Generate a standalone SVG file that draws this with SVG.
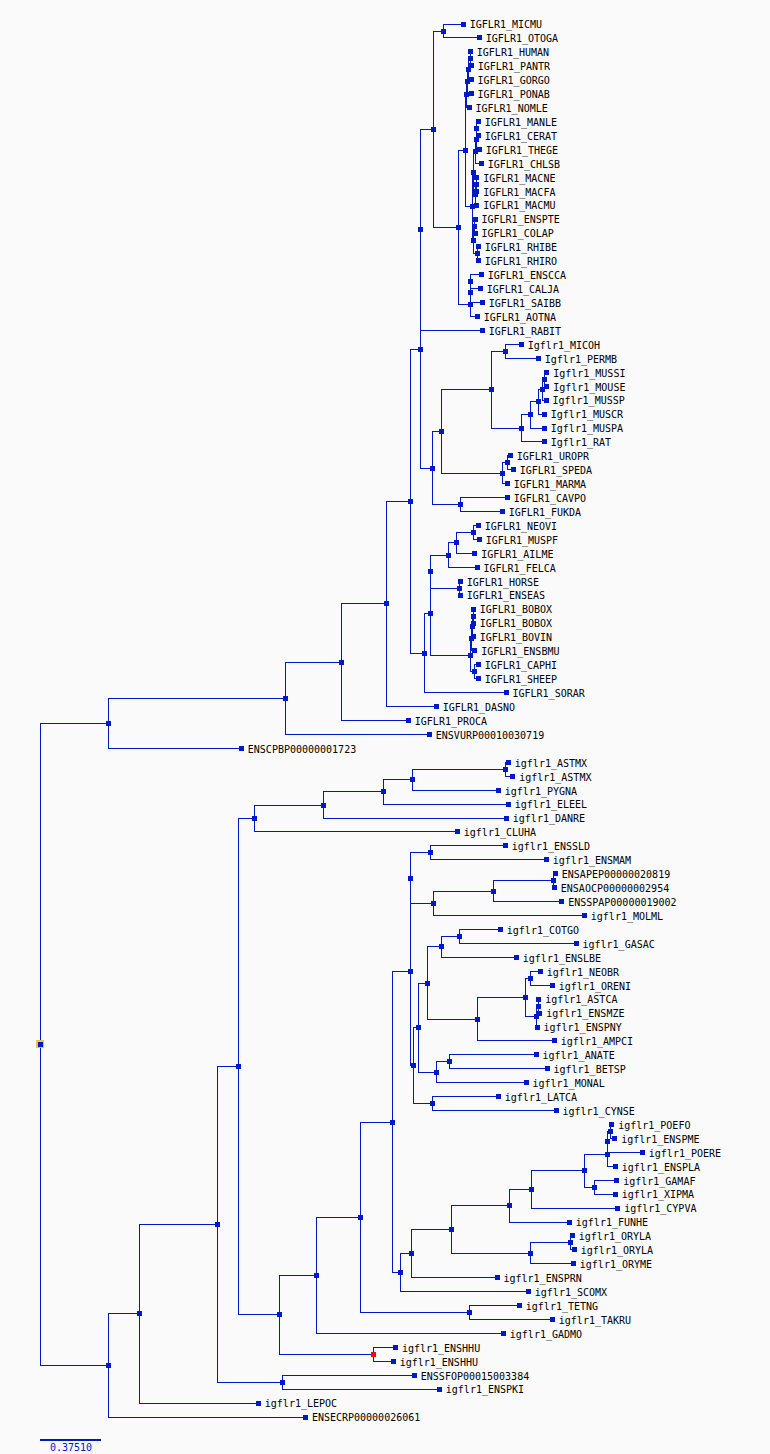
<svg xmlns="http://www.w3.org/2000/svg" xmlns:xlink="http://www.w3.org/1999/xlink" width="770" height="1454" viewBox="0 0 770 1454">
<style>
.c{fill:none;stroke:#0019c8;stroke-width:1;shape-rendering:crispEdges}
.n{fill:#0019c8;shape-rendering:crispEdges}
.t{font-family:"DejaVu Sans Mono","Liberation Mono",monospace;font-size:10px;fill:#000}
</style>
<defs><rect id="sq" x="-2.5" y="-2.5" width="5" height="5"/></defs>
<rect width="770" height="1454" fill="#fafafa"/>
<g id="connectors" class="c">
<path d="M463.3 24H443.3V37.9H479.3"/>
<path d="M470.3 51.9V65.8H471.3"/>
<path d="M470.3 58.9H468.7V79.7H471"/>
<path d="M468.7 69.3H467V93.7H471"/>
<path d="M467 81.5H466.3V107.6H469"/>
<path d="M478.3 121.5H476.7V135.4H478.3"/>
<path d="M476.7 128.5H476.3V149.4H479.3"/>
<path d="M476.3 139H475.5V163.3H481.3"/>
<path d="M476.7 177.2H476.3V191.2H476.7"/>
<path d="M476.3 184.2H475.5V205.1H476.7"/>
<path d="M475.5 151.1H473.5V194.7H475.5"/>
<path d="M475 219H474V233H475"/>
<path d="M478.3 246.9H477.5V260.8H478.3"/>
<path d="M474 226H473V253.9H477.5"/>
<path d="M473.5 172.9H472V240H473"/>
<path d="M466.3 94.6H465.3V206.4H472"/>
<path d="M481.3 274.7H470.5V288.7H480.3"/>
<path d="M470.5 281.7H470.3V302.6H482.3"/>
<path d="M470.3 292.2H470V316.5H477.3"/>
<path d="M465.3 150.5H458.3V304.3H470"/>
<path d="M443.3 31H433.3V227.4H458.3"/>
<path d="M433.3 129.2H420V330.5H482.3"/>
<path d="M521.3 344.4H505.3V358.3H538.3"/>
<path d="M546.7 372.3H544.3V386.2H546.7"/>
<path d="M544.3 379.2H542.7V400.1H546"/>
<path d="M542.7 389.7H538.3V414H544.3"/>
<path d="M538.3 401.9H530.3V428H544.3"/>
<path d="M530.3 414.9H521.3V441.9H544.3"/>
<path d="M505.3 351.4H491.3V428.4H521.3"/>
<path d="M510.3 455.8H507.3V469.8H513.3"/>
<path d="M507.3 462.8H502.3V483.7H507.3"/>
<path d="M491.3 389.9H441.3V473.3H502.3"/>
<path d="M507.3 497.6H460.3V511.6H502.3"/>
<path d="M441.3 431.6H432.3V504.6H460.3"/>
<path d="M420 229.8H420.3V468.1H432.3"/>
<path d="M478.3 525.5H473.3V539.4H479.3"/>
<path d="M473.3 532.5H456.3V553.3H474.7"/>
<path d="M456.3 542.9H448.3V567.3H477"/>
<path d="M460.3 581.2H459.3V595.1H460.3"/>
<path d="M448.3 555.1H430.7V588.2H459.3"/>
<path d="M473.3 609.1H473V623H473.3"/>
<path d="M473 616.1H472.5V636.9H473.3"/>
<path d="M472.5 626.5H471.5V650.9H474.7"/>
<path d="M478.3 664.8H474.7V678.7H478.3"/>
<path d="M471.5 638.7H470V671.8H474.7"/>
<path d="M430.7 571.6V655.2H470"/>
<path d="M430.7 613.4H424.3V692.6H506"/>
<path d="M420.3 349H410.5V653H424.3"/>
<path d="M410.5 501H386.3V706.6H436.3"/>
<path d="M386.3 603.8H341.7V720.5H408.3"/>
<path d="M341.7 662.2H285.3V734.4H429.3"/>
<path d="M285.3 698.3H108.3V748.4H241.3"/>
<path d="M108.3 723.3H40.3V1365.4H108.3"/>
<path d="M508.3 762.3H505.3V776.2H512.7"/>
<path d="M505.3 769.3H412.3V790.2H498.3"/>
<path d="M412.3 779.7H383.3V804.1H508.3"/>
<path d="M383.3 791.9H323.3V818H506.3"/>
<path d="M323.3 805H254.3V831.9H457.3"/>
<path d="M505.3 845.9H430.3V859.8H546.3"/>
<path d="M555.3 873.7H553.3V887.7H554.3"/>
<path d="M553.3 880.7H493.3V901.6H561.7"/>
<path d="M493.3 891.2H433.3V915.5H584.3"/>
<path d="M430.3 852.9H410V903.3H433.3"/>
<path d="M500.3 929.5H459.3V943.4H576"/>
<path d="M459.3 936.5H441.3V957.3H516.3"/>
<path d="M540.3 971.2H530.3V985.2H552.3"/>
<path d="M538.7 999.1V1013H539.7"/>
<path d="M538.7 1006.1H536.3V1027H537"/>
<path d="M530.3 978.2H525.3V1016.5H536.3"/>
<path d="M525.3 997.4H477.3V1040.9H554.3"/>
<path d="M441.3 946.9H427.3V1019.2H477.3"/>
<path d="M536 1054.8H449.3V1068.8H547"/>
<path d="M449.3 1061.8H436.7V1082.7H526"/>
<path d="M427.3 983H418.3V1072.3H436.7"/>
<path d="M498.3 1096.6H432.3V1110.5H556"/>
<path d="M418.3 1027.6H413.3V1103.6H432.3"/>
<path d="M410 878.1H410.3V1065.6H413.3"/>
<path d="M611.7 1124.5H610.5V1138.4H614.7"/>
<path d="M610.5 1131.5H607.5V1152.3H642.3"/>
<path d="M607.5 1141.9H607.3V1166.3H615.3"/>
<path d="M616.7 1180.2H594.3V1194.1H615.3"/>
<path d="M607.3 1154.1H584.3V1187.2H594.3"/>
<path d="M584.3 1170.6H531.3V1208.1H617.7"/>
<path d="M531.3 1189.4H509.3V1222H569.3"/>
<path d="M572.3 1235.9H570V1249.8H574.3"/>
<path d="M570 1242.9H530.3V1263.8H573.3"/>
<path d="M509.3 1205.7H451.3V1253.3H530.3"/>
<path d="M451.3 1229.5H411V1277.7H497"/>
<path d="M411 1253.6H400.3V1291.6H528.3"/>
<path d="M410.3 971.9H392.5V1272.6H400.3"/>
<path d="M519.3 1305.6H469.3V1319.5H552.3"/>
<path d="M392.5 1122.3H360V1312.5H469.3"/>
<path d="M360 1217.4H316.3V1333.4H503.3"/>
<path d="M395.4 1347.4H373.2V1361.3H393.2"/>
<path d="M316.3 1275.4H279.3V1354.3H373.2"/>
<path d="M254.3 818.4H238.3V1314.9H279.3"/>
<path d="M414.3 1375.2H282.2V1389.1H439.3"/>
<path d="M238.3 1066.7H217.3V1382.2H282.2"/>
<path d="M217.3 1224.5H139.3V1403.1H258.3"/>
<path d="M139.3 1313.8H108.3V1417H305.4"/>
</g>
<g id="internal-nodes" class="n">
<use xlink:href="#sq" x="443.3" y="31"/><use xlink:href="#sq" x="470.3" y="58.9"/><use xlink:href="#sq" x="468.7" y="69.3"/><use xlink:href="#sq" x="467" y="81.5"/><use xlink:href="#sq" x="466.3" y="94.6"/>
<use xlink:href="#sq" x="476.7" y="128.5"/><use xlink:href="#sq" x="476.3" y="139"/><use xlink:href="#sq" x="475.5" y="151.1"/><use xlink:href="#sq" x="476.3" y="184.2"/><use xlink:href="#sq" x="475.5" y="194.7"/><use xlink:href="#sq" x="473.5" y="172.9"/>
<use xlink:href="#sq" x="474" y="226"/><use xlink:href="#sq" x="477.5" y="253.9"/><use xlink:href="#sq" x="473" y="240"/><use xlink:href="#sq" x="472" y="206.4"/><use xlink:href="#sq" x="465.3" y="150.5"/>
<use xlink:href="#sq" x="470.5" y="281.7"/><use xlink:href="#sq" x="470.3" y="292.2"/><use xlink:href="#sq" x="470" y="304.3"/><use xlink:href="#sq" x="458.3" y="227.4"/><use xlink:href="#sq" x="433.3" y="129.2"/><use xlink:href="#sq" x="420" y="229.8"/>
<use xlink:href="#sq" x="505.3" y="351.4"/><use xlink:href="#sq" x="544.3" y="379.2"/><use xlink:href="#sq" x="542.7" y="389.7"/><use xlink:href="#sq" x="538.3" y="401.9"/><use xlink:href="#sq" x="530.3" y="414.9"/><use xlink:href="#sq" x="521.3" y="428.4"/><use xlink:href="#sq" x="491.3" y="389.9"/>
<use xlink:href="#sq" x="507.3" y="462.8"/><use xlink:href="#sq" x="502.3" y="473.3"/><use xlink:href="#sq" x="441.3" y="431.6"/><use xlink:href="#sq" x="460.3" y="504.6"/><use xlink:href="#sq" x="432.3" y="468.1"/><use xlink:href="#sq" x="420.3" y="349"/>
<use xlink:href="#sq" x="473.3" y="532.5"/><use xlink:href="#sq" x="456.3" y="542.9"/><use xlink:href="#sq" x="448.3" y="555.1"/><use xlink:href="#sq" x="459.3" y="588.2"/><use xlink:href="#sq" x="430.7" y="571.6"/>
<use xlink:href="#sq" x="473" y="616.1"/><use xlink:href="#sq" x="472.5" y="626.5"/><use xlink:href="#sq" x="471.5" y="638.7"/><use xlink:href="#sq" x="474.7" y="671.8"/><use xlink:href="#sq" x="470" y="655.2"/>
<use xlink:href="#sq" x="430.7" y="613.4"/><use xlink:href="#sq" x="424.3" y="653"/><use xlink:href="#sq" x="410.5" y="501"/><use xlink:href="#sq" x="386.3" y="603.8"/><use xlink:href="#sq" x="341.7" y="662.2"/><use xlink:href="#sq" x="285.3" y="698.3"/><use xlink:href="#sq" x="108.3" y="723.3"/>
<use xlink:href="#sq" x="505.3" y="769.3"/><use xlink:href="#sq" x="412.3" y="779.7"/><use xlink:href="#sq" x="383.3" y="791.9"/><use xlink:href="#sq" x="323.3" y="805"/><use xlink:href="#sq" x="254.3" y="818.4"/>
<use xlink:href="#sq" x="430.3" y="852.9"/><use xlink:href="#sq" x="553.3" y="880.7"/><use xlink:href="#sq" x="493.3" y="891.2"/><use xlink:href="#sq" x="433.3" y="903.3"/><use xlink:href="#sq" x="410" y="878.1"/>
<use xlink:href="#sq" x="459.3" y="936.5"/><use xlink:href="#sq" x="441.3" y="946.9"/><use xlink:href="#sq" x="530.3" y="978.2"/><use xlink:href="#sq" x="538.7" y="1006.1"/><use xlink:href="#sq" x="536.3" y="1016.5"/><use xlink:href="#sq" x="525.3" y="997.4"/><use xlink:href="#sq" x="477.3" y="1019.2"/><use xlink:href="#sq" x="427.3" y="983"/>
<use xlink:href="#sq" x="449.3" y="1061.8"/><use xlink:href="#sq" x="436.7" y="1072.3"/><use xlink:href="#sq" x="418.3" y="1027.6"/><use xlink:href="#sq" x="432.3" y="1103.6"/><use xlink:href="#sq" x="413.3" y="1065.6"/><use xlink:href="#sq" x="410.3" y="971.9"/>
<use xlink:href="#sq" x="610.5" y="1131.5"/><use xlink:href="#sq" x="607.5" y="1141.9"/><use xlink:href="#sq" x="607.3" y="1154.1"/><use xlink:href="#sq" x="594.3" y="1187.2"/><use xlink:href="#sq" x="584.3" y="1170.6"/><use xlink:href="#sq" x="531.3" y="1189.4"/><use xlink:href="#sq" x="509.3" y="1205.7"/>
<use xlink:href="#sq" x="570" y="1242.9"/><use xlink:href="#sq" x="530.3" y="1253.3"/><use xlink:href="#sq" x="451.3" y="1229.5"/><use xlink:href="#sq" x="411" y="1253.6"/><use xlink:href="#sq" x="400.3" y="1272.6"/><use xlink:href="#sq" x="392.5" y="1122.3"/>
<use xlink:href="#sq" x="469.3" y="1312.5"/><use xlink:href="#sq" x="360" y="1217.4"/><use xlink:href="#sq" x="316.3" y="1275.4"/><use xlink:href="#sq" x="279.3" y="1314.9"/><use xlink:href="#sq" x="238.3" y="1066.7"/><use xlink:href="#sq" x="282.2" y="1382.2"/><use xlink:href="#sq" x="217.3" y="1224.5"/><use xlink:href="#sq" x="139.3" y="1313.8"/><use xlink:href="#sq" x="108.3" y="1365.4"/>
<use xlink:href="#sq" x="373.2" y="1354.3" style="fill:#ff0000"/>
</g>
<g id="root">
<rect x="36.3" y="1040.4" width="8" height="8" fill="#e9c64a" shape-rendering="crispEdges"/>
<use xlink:href="#sq" x="40.3" y="1044.4" class="n"/>
</g>
<g id="leaves">
<g id="leaf-IGFLR1_MICMU"><use xlink:href="#sq" class="n" x="463.3" y="24"/><text class="t" x="469.8" y="28.3">IGFLR1_MICMU</text></g>
<g id="leaf-IGFLR1_OTOGA"><use xlink:href="#sq" class="n" x="479.3" y="37.9"/><text class="t" x="485.8" y="42.2">IGFLR1_OTOGA</text></g>
<g id="leaf-IGFLR1_HUMAN"><use xlink:href="#sq" class="n" x="470.3" y="51.9"/><text class="t" x="476.8" y="56.2">IGFLR1_HUMAN</text></g>
<g id="leaf-IGFLR1_PANTR"><use xlink:href="#sq" class="n" x="471.3" y="65.8"/><text class="t" x="477.8" y="70.1">IGFLR1_PANTR</text></g>
<g id="leaf-IGFLR1_GORGO"><use xlink:href="#sq" class="n" x="471" y="79.7"/><text class="t" x="477.5" y="84">IGFLR1_GORGO</text></g>
<g id="leaf-IGFLR1_PONAB"><use xlink:href="#sq" class="n" x="471" y="93.7"/><text class="t" x="477.5" y="98">IGFLR1_PONAB</text></g>
<g id="leaf-IGFLR1_NOMLE"><use xlink:href="#sq" class="n" x="469" y="107.6"/><text class="t" x="475.5" y="111.9">IGFLR1_NOMLE</text></g>
<g id="leaf-IGFLR1_MANLE"><use xlink:href="#sq" class="n" x="478.3" y="121.5"/><text class="t" x="484.8" y="125.8">IGFLR1_MANLE</text></g>
<g id="leaf-IGFLR1_CERAT"><use xlink:href="#sq" class="n" x="478.3" y="135.4"/><text class="t" x="484.8" y="139.7">IGFLR1_CERAT</text></g>
<g id="leaf-IGFLR1_THEGE"><use xlink:href="#sq" class="n" x="479.3" y="149.4"/><text class="t" x="485.8" y="153.7">IGFLR1_THEGE</text></g>
<g id="leaf-IGFLR1_CHLSB"><use xlink:href="#sq" class="n" x="481.3" y="163.3"/><text class="t" x="487.8" y="167.6">IGFLR1_CHLSB</text></g>
<g id="leaf-IGFLR1_MACNE"><use xlink:href="#sq" class="n" x="476.7" y="177.2"/><text class="t" x="483.2" y="181.5">IGFLR1_MACNE</text></g>
<g id="leaf-IGFLR1_MACFA"><use xlink:href="#sq" class="n" x="476.7" y="191.2"/><text class="t" x="483.2" y="195.5">IGFLR1_MACFA</text></g>
<g id="leaf-IGFLR1_MACMU"><use xlink:href="#sq" class="n" x="476.7" y="205.1"/><text class="t" x="483.2" y="209.4">IGFLR1_MACMU</text></g>
<g id="leaf-IGFLR1_ENSPTE"><use xlink:href="#sq" class="n" x="475" y="219"/><text class="t" x="481.5" y="223.3">IGFLR1_ENSPTE</text></g>
<g id="leaf-IGFLR1_COLAP"><use xlink:href="#sq" class="n" x="475" y="233"/><text class="t" x="481.5" y="237.3">IGFLR1_COLAP</text></g>
<g id="leaf-IGFLR1_RHIBE"><use xlink:href="#sq" class="n" x="478.3" y="246.9"/><text class="t" x="484.8" y="251.2">IGFLR1_RHIBE</text></g>
<g id="leaf-IGFLR1_RHIRO"><use xlink:href="#sq" class="n" x="478.3" y="260.8"/><text class="t" x="484.8" y="265.1">IGFLR1_RHIRO</text></g>
<g id="leaf-IGFLR1_ENSCCA"><use xlink:href="#sq" class="n" x="481.3" y="274.7"/><text class="t" x="487.8" y="279">IGFLR1_ENSCCA</text></g>
<g id="leaf-IGFLR1_CALJA"><use xlink:href="#sq" class="n" x="480.3" y="288.7"/><text class="t" x="486.8" y="293">IGFLR1_CALJA</text></g>
<g id="leaf-IGFLR1_SAIBB"><use xlink:href="#sq" class="n" x="482.3" y="302.6"/><text class="t" x="488.8" y="306.9">IGFLR1_SAIBB</text></g>
<g id="leaf-IGFLR1_AOTNA"><use xlink:href="#sq" class="n" x="477.3" y="316.5"/><text class="t" x="483.8" y="320.8">IGFLR1_AOTNA</text></g>
<g id="leaf-IGFLR1_RABIT"><use xlink:href="#sq" class="n" x="482.3" y="330.5"/><text class="t" x="488.8" y="334.8">IGFLR1_RABIT</text></g>
<g id="leaf-Igflr1_MICOH"><use xlink:href="#sq" class="n" x="521.3" y="344.4"/><text class="t" x="527.8" y="348.7">Igflr1_MICOH</text></g>
<g id="leaf-Igflr1_PERMB"><use xlink:href="#sq" class="n" x="538.3" y="358.3"/><text class="t" x="544.8" y="362.6">Igflr1_PERMB</text></g>
<g id="leaf-Igflr1_MUSSI"><use xlink:href="#sq" class="n" x="546.7" y="372.3"/><text class="t" x="553.2" y="376.6">Igflr1_MUSSI</text></g>
<g id="leaf-Igflr1_MOUSE"><use xlink:href="#sq" class="n" x="546.7" y="386.2"/><text class="t" x="553.2" y="390.5">Igflr1_MOUSE</text></g>
<g id="leaf-Igflr1_MUSSP"><use xlink:href="#sq" class="n" x="546" y="400.1"/><text class="t" x="552.5" y="404.4">Igflr1_MUSSP</text></g>
<g id="leaf-Igflr1_MUSCR"><use xlink:href="#sq" class="n" x="544.3" y="414"/><text class="t" x="550.8" y="418.3">Igflr1_MUSCR</text></g>
<g id="leaf-Igflr1_MUSPA"><use xlink:href="#sq" class="n" x="544.3" y="428"/><text class="t" x="550.8" y="432.3">Igflr1_MUSPA</text></g>
<g id="leaf-Igflr1_RAT"><use xlink:href="#sq" class="n" x="544.3" y="441.9"/><text class="t" x="550.8" y="446.2">Igflr1_RAT</text></g>
<g id="leaf-IGFLR1_UROPR"><use xlink:href="#sq" class="n" x="510.3" y="455.8"/><text class="t" x="516.8" y="460.1">IGFLR1_UROPR</text></g>
<g id="leaf-IGFLR1_SPEDA"><use xlink:href="#sq" class="n" x="513.3" y="469.8"/><text class="t" x="519.8" y="474.1">IGFLR1_SPEDA</text></g>
<g id="leaf-IGFLR1_MARMA"><use xlink:href="#sq" class="n" x="507.3" y="483.7"/><text class="t" x="513.8" y="488">IGFLR1_MARMA</text></g>
<g id="leaf-IGFLR1_CAVPO"><use xlink:href="#sq" class="n" x="507.3" y="497.6"/><text class="t" x="513.8" y="501.9">IGFLR1_CAVPO</text></g>
<g id="leaf-IGFLR1_FUKDA"><use xlink:href="#sq" class="n" x="502.3" y="511.6"/><text class="t" x="508.8" y="515.9">IGFLR1_FUKDA</text></g>
<g id="leaf-IGFLR1_NEOVI"><use xlink:href="#sq" class="n" x="478.3" y="525.5"/><text class="t" x="484.8" y="529.8">IGFLR1_NEOVI</text></g>
<g id="leaf-IGFLR1_MUSPF"><use xlink:href="#sq" class="n" x="479.3" y="539.4"/><text class="t" x="485.8" y="543.7">IGFLR1_MUSPF</text></g>
<g id="leaf-IGFLR1_AILME"><use xlink:href="#sq" class="n" x="474.7" y="553.3"/><text class="t" x="481.2" y="557.6">IGFLR1_AILME</text></g>
<g id="leaf-IGFLR1_FELCA"><use xlink:href="#sq" class="n" x="477" y="567.3"/><text class="t" x="483.5" y="571.6">IGFLR1_FELCA</text></g>
<g id="leaf-IGFLR1_HORSE"><use xlink:href="#sq" class="n" x="460.3" y="581.2"/><text class="t" x="466.8" y="585.5">IGFLR1_HORSE</text></g>
<g id="leaf-IGFLR1_ENSEAS"><use xlink:href="#sq" class="n" x="460.3" y="595.1"/><text class="t" x="466.8" y="599.4">IGFLR1_ENSEAS</text></g>
<g id="leaf-IGFLR1_BOBOX-1"><use xlink:href="#sq" class="n" x="473.3" y="609.1"/><text class="t" x="479.8" y="613.4">IGFLR1_BOBOX</text></g>
<g id="leaf-IGFLR1_BOBOX-2"><use xlink:href="#sq" class="n" x="473.3" y="623"/><text class="t" x="479.8" y="627.3">IGFLR1_BOBOX</text></g>
<g id="leaf-IGFLR1_BOVIN"><use xlink:href="#sq" class="n" x="473.3" y="636.9"/><text class="t" x="479.8" y="641.2">IGFLR1_BOVIN</text></g>
<g id="leaf-IGFLR1_ENSBMU"><use xlink:href="#sq" class="n" x="474.7" y="650.9"/><text class="t" x="481.2" y="655.2">IGFLR1_ENSBMU</text></g>
<g id="leaf-IGFLR1_CAPHI"><use xlink:href="#sq" class="n" x="478.3" y="664.8"/><text class="t" x="484.8" y="669.1">IGFLR1_CAPHI</text></g>
<g id="leaf-IGFLR1_SHEEP"><use xlink:href="#sq" class="n" x="478.3" y="678.7"/><text class="t" x="484.8" y="683">IGFLR1_SHEEP</text></g>
<g id="leaf-IGFLR1_SORAR"><use xlink:href="#sq" class="n" x="506" y="692.6"/><text class="t" x="512.5" y="696.9">IGFLR1_SORAR</text></g>
<g id="leaf-IGFLR1_DASNO"><use xlink:href="#sq" class="n" x="436.3" y="706.6"/><text class="t" x="442.8" y="710.9">IGFLR1_DASNO</text></g>
<g id="leaf-IGFLR1_PROCA"><use xlink:href="#sq" class="n" x="408.3" y="720.5"/><text class="t" x="414.8" y="724.8">IGFLR1_PROCA</text></g>
<g id="leaf-ENSVURP00010030719"><use xlink:href="#sq" class="n" x="429.3" y="734.4"/><text class="t" x="435.8" y="738.7">ENSVURP00010030719</text></g>
<g id="leaf-ENSCPBP00000001723"><use xlink:href="#sq" class="n" x="241.3" y="748.4"/><text class="t" x="247.8" y="752.7">ENSCPBP00000001723</text></g>
<g id="leaf-igflr1_ASTMX-1"><use xlink:href="#sq" class="n" x="508.3" y="762.3"/><text class="t" x="514.8" y="766.6">igflr1_ASTMX</text></g>
<g id="leaf-igflr1_ASTMX-2"><use xlink:href="#sq" class="n" x="512.7" y="776.2"/><text class="t" x="519.2" y="780.5">igflr1_ASTMX</text></g>
<g id="leaf-igflr1_PYGNA"><use xlink:href="#sq" class="n" x="498.3" y="790.2"/><text class="t" x="504.8" y="794.5">igflr1_PYGNA</text></g>
<g id="leaf-igflr1_ELEEL"><use xlink:href="#sq" class="n" x="508.3" y="804.1"/><text class="t" x="514.8" y="808.4">igflr1_ELEEL</text></g>
<g id="leaf-igflr1_DANRE"><use xlink:href="#sq" class="n" x="506.3" y="818"/><text class="t" x="512.8" y="822.3">igflr1_DANRE</text></g>
<g id="leaf-igflr1_CLUHA"><use xlink:href="#sq" class="n" x="457.3" y="831.9"/><text class="t" x="463.8" y="836.2">igflr1_CLUHA</text></g>
<g id="leaf-igflr1_ENSSLD"><use xlink:href="#sq" class="n" x="505.3" y="845.9"/><text class="t" x="511.8" y="850.2">igflr1_ENSSLD</text></g>
<g id="leaf-igflr1_ENSMAM"><use xlink:href="#sq" class="n" x="546.3" y="859.8"/><text class="t" x="552.8" y="864.1">igflr1_ENSMAM</text></g>
<g id="leaf-ENSAPEP00000020819"><use xlink:href="#sq" class="n" x="555.3" y="873.7"/><text class="t" x="561.8" y="878">ENSAPEP00000020819</text></g>
<g id="leaf-ENSAOCP00000002954"><use xlink:href="#sq" class="n" x="554.3" y="887.7"/><text class="t" x="560.8" y="892">ENSAOCP00000002954</text></g>
<g id="leaf-ENSSPAP00000019002"><use xlink:href="#sq" class="n" x="561.7" y="901.6"/><text class="t" x="568.2" y="905.9">ENSSPAP00000019002</text></g>
<g id="leaf-igflr1_MOLML"><use xlink:href="#sq" class="n" x="584.3" y="915.5"/><text class="t" x="590.8" y="919.8">igflr1_MOLML</text></g>
<g id="leaf-igflr1_COTGO"><use xlink:href="#sq" class="n" x="500.3" y="929.5"/><text class="t" x="506.8" y="933.8">igflr1_COTGO</text></g>
<g id="leaf-igflr1_GASAC"><use xlink:href="#sq" class="n" x="576" y="943.4"/><text class="t" x="582.5" y="947.7">igflr1_GASAC</text></g>
<g id="leaf-igflr1_ENSLBE"><use xlink:href="#sq" class="n" x="516.3" y="957.3"/><text class="t" x="522.8" y="961.6">igflr1_ENSLBE</text></g>
<g id="leaf-igflr1_NEOBR"><use xlink:href="#sq" class="n" x="540.3" y="971.2"/><text class="t" x="546.8" y="975.5">igflr1_NEOBR</text></g>
<g id="leaf-igflr1_ORENI"><use xlink:href="#sq" class="n" x="552.3" y="985.2"/><text class="t" x="558.8" y="989.5">igflr1_ORENI</text></g>
<g id="leaf-igflr1_ASTCA"><use xlink:href="#sq" class="n" x="538.7" y="999.1"/><text class="t" x="545.2" y="1003.4">igflr1_ASTCA</text></g>
<g id="leaf-igflr1_ENSMZE"><use xlink:href="#sq" class="n" x="539.7" y="1013"/><text class="t" x="546.2" y="1017.3">igflr1_ENSMZE</text></g>
<g id="leaf-igflr1_ENSPNY"><use xlink:href="#sq" class="n" x="537" y="1027"/><text class="t" x="543.5" y="1031.3">igflr1_ENSPNY</text></g>
<g id="leaf-igflr1_AMPCI"><use xlink:href="#sq" class="n" x="554.3" y="1040.9"/><text class="t" x="560.8" y="1045.2">igflr1_AMPCI</text></g>
<g id="leaf-igflr1_ANATE"><use xlink:href="#sq" class="n" x="536" y="1054.8"/><text class="t" x="542.5" y="1059.1">igflr1_ANATE</text></g>
<g id="leaf-igflr1_BETSP"><use xlink:href="#sq" class="n" x="547" y="1068.8"/><text class="t" x="553.5" y="1073.1">igflr1_BETSP</text></g>
<g id="leaf-igflr1_MONAL"><use xlink:href="#sq" class="n" x="526" y="1082.7"/><text class="t" x="532.5" y="1087">igflr1_MONAL</text></g>
<g id="leaf-igflr1_LATCA"><use xlink:href="#sq" class="n" x="498.3" y="1096.6"/><text class="t" x="504.8" y="1100.9">igflr1_LATCA</text></g>
<g id="leaf-igflr1_CYNSE"><use xlink:href="#sq" class="n" x="556" y="1110.5"/><text class="t" x="562.5" y="1114.8">igflr1_CYNSE</text></g>
<g id="leaf-igflr1_POEFO"><use xlink:href="#sq" class="n" x="611.7" y="1124.5"/><text class="t" x="618.2" y="1128.8">igflr1_POEFO</text></g>
<g id="leaf-igflr1_ENSPME"><use xlink:href="#sq" class="n" x="614.7" y="1138.4"/><text class="t" x="621.2" y="1142.7">igflr1_ENSPME</text></g>
<g id="leaf-igflr1_POERE"><use xlink:href="#sq" class="n" x="642.3" y="1152.3"/><text class="t" x="648.8" y="1156.6">igflr1_POERE</text></g>
<g id="leaf-igflr1_ENSPLA"><use xlink:href="#sq" class="n" x="615.3" y="1166.3"/><text class="t" x="621.8" y="1170.6">igflr1_ENSPLA</text></g>
<g id="leaf-igflr1_GAMAF"><use xlink:href="#sq" class="n" x="616.7" y="1180.2"/><text class="t" x="623.2" y="1184.5">igflr1_GAMAF</text></g>
<g id="leaf-igflr1_XIPMA"><use xlink:href="#sq" class="n" x="615.3" y="1194.1"/><text class="t" x="621.8" y="1198.4">igflr1_XIPMA</text></g>
<g id="leaf-igflr1_CYPVA"><use xlink:href="#sq" class="n" x="617.7" y="1208.1"/><text class="t" x="624.2" y="1212.4">igflr1_CYPVA</text></g>
<g id="leaf-igflr1_FUNHE"><use xlink:href="#sq" class="n" x="569.3" y="1222"/><text class="t" x="575.8" y="1226.3">igflr1_FUNHE</text></g>
<g id="leaf-igflr1_ORYLA-1"><use xlink:href="#sq" class="n" x="572.3" y="1235.9"/><text class="t" x="578.8" y="1240.2">igflr1_ORYLA</text></g>
<g id="leaf-igflr1_ORYLA-2"><use xlink:href="#sq" class="n" x="574.3" y="1249.8"/><text class="t" x="580.8" y="1254.1">igflr1_ORYLA</text></g>
<g id="leaf-igflr1_ORYME"><use xlink:href="#sq" class="n" x="573.3" y="1263.8"/><text class="t" x="579.8" y="1268.1">igflr1_ORYME</text></g>
<g id="leaf-igflr1_ENSPRN"><use xlink:href="#sq" class="n" x="497" y="1277.7"/><text class="t" x="503.5" y="1282">igflr1_ENSPRN</text></g>
<g id="leaf-igflr1_SCOMX"><use xlink:href="#sq" class="n" x="528.3" y="1291.6"/><text class="t" x="534.8" y="1295.9">igflr1_SCOMX</text></g>
<g id="leaf-igflr1_TETNG"><use xlink:href="#sq" class="n" x="519.3" y="1305.6"/><text class="t" x="525.8" y="1309.9">igflr1_TETNG</text></g>
<g id="leaf-igflr1_TAKRU"><use xlink:href="#sq" class="n" x="552.3" y="1319.5"/><text class="t" x="558.8" y="1323.8">igflr1_TAKRU</text></g>
<g id="leaf-igflr1_GADMO"><use xlink:href="#sq" class="n" x="503.3" y="1333.4"/><text class="t" x="509.8" y="1337.7">igflr1_GADMO</text></g>
<g id="leaf-igflr1_ENSHHU-1"><use xlink:href="#sq" class="n" x="395.4" y="1347.4"/><text class="t" x="401.9" y="1351.7">igflr1_ENSHHU</text></g>
<g id="leaf-igflr1_ENSHHU-2"><use xlink:href="#sq" class="n" x="393.2" y="1361.3"/><text class="t" x="399.7" y="1365.6">igflr1_ENSHHU</text></g>
<g id="leaf-ENSSFOP00015003384"><use xlink:href="#sq" class="n" x="414.3" y="1375.2"/><text class="t" x="420.8" y="1379.5">ENSSFOP00015003384</text></g>
<g id="leaf-igflr1_ENSPKI"><use xlink:href="#sq" class="n" x="439.3" y="1389.1"/><text class="t" x="445.8" y="1393.4">igflr1_ENSPKI</text></g>
<g id="leaf-igflr1_LEPOC"><use xlink:href="#sq" class="n" x="258.3" y="1403.1"/><text class="t" x="264.8" y="1407.4">igflr1_LEPOC</text></g>
<g id="leaf-ENSECRP00000026061"><use xlink:href="#sq" class="n" x="305.4" y="1417"/><text class="t" x="311.9" y="1421.3">ENSECRP00000026061</text></g>
</g>
<g id="scale-bar">
<line x1="40" y1="1439.5" x2="100.7" y2="1439.5" stroke="#0019c8" stroke-width="2" shape-rendering="crispEdges"/>
<text class="t" x="50" y="1451" style="fill:#0019c8">0.37510</text>
</g>
</svg>
